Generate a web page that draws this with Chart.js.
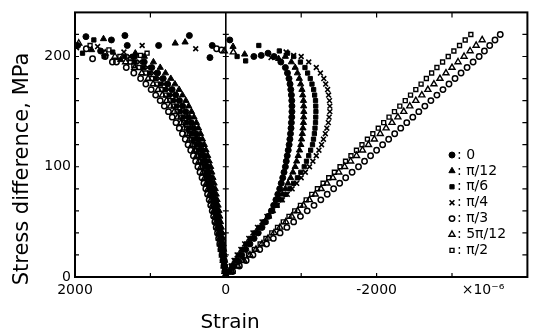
<!DOCTYPE html>
<html><head><meta charset="utf-8">
<script src="https://cdn.jsdelivr.net/npm/chart.js@4.4.0/dist/chart.umd.min.js"></script>
<style>html,body{margin:0;padding:0;background:#fff;}canvas{display:block;}</style>
</head><body>
<canvas id="c" width="533" height="335"></canvas>
<script>
// ---- data (strain in 1e-6, stress difference in MPa) ----
const angleLabels = ['0','π/12','π/6','π/4','π/3','5π/12','π/2'];
const stressSteps = [0,5,10,15,20,25,30,35,40,45,50,55,60,65,70,75,80,85,90,95,100,105,110,115,120,125,130,135,140,145,150,155,160,165,170,175,180,185,190,195,200,205,210,215,220];
const xTickLabels = [2000, 0, -2000];
const yTickLabels = [0, 100, 200];
const xTitle = 'Strain';
const yTitle = 'Stress difference, MPa';
const unitLabel = '×10⁻⁶';

// positive-strain branches
const left0 = [0,7,14,20,28,37,46,55,65,77,89,100,112,126,141,156,171,189,206,224,243,265,288,313,339,367,395,426,457,494,531,573,615,664,712,771,830,905,982,1082,1210];
const left1 = [0,5,10,15,20,28,35,42,50,60,70,80,90,102,115,127,140,155,170,185,200,220,240,262,285,310,335,362,390,422,455,492,530,575,620,675,730,800,870,960,1080];
const left2 = [0,8,17,26,35,46,57,68,80,93,107,121,135,151,167,184,202,222,242,263,285,310,335,363,392,423,455,490,525,566,607,653,700,752,805,867,930,1010,1095,1205,1340];
const left3 = [0,8,16,23,32,42,52,62,73,85,98,111,124,139,154,170,187,206,224,244,264,288,312,338,366,395,425,458,491,530,569,613,658,708,759,819,880,958,1039,1144,1275];
const left4 = [0,12,25,37,50,65,80,95,110,127,145,162,180,200,220,242,265,290,315,342,370,400,430,465,500,537,575,617,660,710,760,815,870,930,990,1060,1130,1220,1320,1450,1600];
const left5 = [0,10,21,31,43,56,69,82,95,110,126,142,158,176,194,213,234,256,279,303,328,355,383,414,446,480,515,553,593,638,684,734,785,841,898,964,1030,1115,1208,1328,1470];
const left6 = [0,9,19,29,39,51,63,75,88,102,117,132,147,164,181,199,218,239,261,283,307,333,359,389,419,452,485,522,559,602,646,694,743,797,852,916,980,1063,1152,1267,1405];

// negative-strain branches
const right0 = [0,-50,-100,-155,-210,-265,-320,-375,-430,-480,-525,-565,-605,-635,-665,-690,-715,-735,-755,-772,-790,-802,-815,-828,-840,-850,-858,-865,-870,-875,-877,-877,-875,-870,-862,-852,-838,-818,-790,-730,-640];
const right1 = [0,-45,-90,-140,-190,-245,-300,-355,-410,-465,-520,-570,-620,-665,-710,-750,-790,-825,-860,-890,-920,-940,-960,-978,-995,-1005,-1015,-1023,-1030,-1033,-1035,-1033,-1030,-1020,-1010,-993,-975,-950,-920,-870,-790];
const right2 = [0,-40,-80,-125,-170,-220,-270,-325,-380,-440,-500,-560,-620,-680,-740,-795,-850,-900,-950,-995,-1040,-1070,-1100,-1125,-1150,-1163,-1175,-1183,-1190,-1193,-1195,-1193,-1190,-1178,-1165,-1143,-1120,-1085,-1050,-990,-900];
const right3 = [0,-35,-70,-110,-150,-200,-250,-305,-360,-420,-480,-545,-610,-680,-750,-815,-880,-940,-1000,-1055,-1110,-1155,-1200,-1235,-1270,-1295,-1320,-1340,-1360,-1370,-1380,-1380,-1375,-1363,-1350,-1325,-1300,-1255,-1200,-1100,-1000];
const right4 = [0,-90,-180,-270,-360,-450,-540,-630,-720,-810,-900,-990,-1080,-1170,-1260,-1345,-1430,-1510,-1590,-1675,-1760,-1840,-1920,-2000,-2080,-2160,-2240,-2320,-2400,-2480,-2560,-2640,-2720,-2800,-2880,-2960,-3040,-3120,-3200,-3280,-3360,-3430,-3500,-3570,-3640];
const right5 = [0,-80,-160,-240,-320,-400,-480,-560,-640,-718,-796,-874,-952,-1030,-1108,-1186,-1264,-1342,-1420,-1498,-1576,-1655,-1734,-1813,-1892,-1970,-2048,-2126,-2204,-2282,-2360,-2440,-2520,-2600,-2680,-2760,-2840,-2920,-3000,-3080,-3160,-3240,-3320,-3400];
const right6 = [0,-75,-150,-225,-300,-378,-455,-532,-610,-686,-762,-838,-914,-990,-1066,-1140,-1215,-1290,-1365,-1440,-1515,-1588,-1660,-1733,-1806,-1878,-1950,-2022,-2094,-2165,-2237,-2308,-2380,-2450,-2520,-2590,-2660,-2730,-2800,-2875,-2950,-3025,-3100,-3175,-3250];

// scattered points near yield ([strain, stress])
const tail0 = [[1855,218],[1965,210],[1517,215],[1338,219],[1307,210],[891,210],[1660,205],[-560,203],[-470,201],[-372,200],[-53,215],[180,210],[210,199],[483,219]];
const tail1 = [[1622,216],[1395,197],[1200,203],[1780,206],[-700,198],[-250,202],[-96,209],[540,213],[671,212]];
const tail2 = [[1750,215],[1614,200],[1500,204],[1900,203],[-820,203],[-710,205],[-438,210],[-263,196],[-150,200]];
const tail3 = [[1109,210],[1351,204],[1980,208],[1700,209],[399,207],[-900,201],[-800,204],[-600,199]];
const tail4 = [[1767,198],[1504,195],[1850,207],[122,207],[57,206]];
const tail5 = [[1263,198],[1600,203],[1950,212],[20,205],[-100,204]];
const tail6 = [[1044,203],[1132,201],[1220,192],[1550,206],[1800,210]];

// ---- styles ----
const markerStyles = ['circle','triangle','rect','crossRot','circle','triangle','rect'];
const markerFilled = [true,true,true,true,false,false,false];
const markerRadius = [3,3.6,3,3.4,2.7,3.5,2.8];
const markerBorder = [1,1,1,1.6,1.5,1.4,1.4];

const leftBranches = [left0,left1,left2,left3,left4,left5,left6];
const rightBranches = [right0,right1,right2,right3,right4,right5,right6];
const tails = [tail0,tail1,tail2,tail3,tail4,tail5,tail6];

function branch(arr){ return arr.map((v,i)=>({x:v, y:stressSteps[i]})); }

const datasets = angleLabels.map((lab,i)=>({
  label: lab,
  data: [...branch(leftBranches[i]), ...branch(rightBranches[i]), ...tails[i].map(p=>({x:p[0], y:p[1]}))],
  pointStyle: markerStyles[i],
  pointRadius: markerRadius[i],
  pointBorderWidth: markerBorder[i],
  pointBackgroundColor: markerFilled[i] ? '#000' : 'rgba(255,255,255,0)',
  pointBorderColor: '#000',
  showLine: false
}));

Chart.defaults.font.family = 'DejaVu Sans';
Chart.defaults.color = '#000';

const decor = {
  id: 'decor',
  afterDatasetsDraw(chart){
    const {ctx, chartArea:a, scales:{x,y}} = chart;
    ctx.save();
    ctx.strokeStyle = '#000'; ctx.fillStyle = '#000';
    const x0 = x.getPixelForValue(0);
    ctx.lineWidth = 1.6;
    ctx.beginPath(); ctx.moveTo(x0, a.top); ctx.lineTo(x0, a.bottom); ctx.stroke();
    ctx.lineWidth = 1.2;
    ctx.beginPath();
    y.ticks.forEach(t=>{
      if (t.value <= y.min || t.value >= y.max) return;
      const py = y.getPixelForValue(t.value);
      ctx.moveTo(a.left, py); ctx.lineTo(a.left+4, py);
      ctx.moveTo(a.right-5, py); ctx.lineTo(a.right, py);
      ctx.moveTo(x0-3, py); ctx.lineTo(x0+3, py);
    });
    x.ticks.forEach(t=>{
      if (t.value <= x.min || t.value >= x.max || t.value === 0) return;
      const px = x.getPixelForValue(t.value);
      ctx.moveTo(px, a.bottom); ctx.lineTo(px, a.bottom-4);
      ctx.moveTo(px, a.top); ctx.lineTo(px, a.top+5);
    });
    ctx.stroke();
    ctx.lineWidth = 2;
    ctx.strokeRect(a.left, a.top, a.right-a.left, a.bottom-a.top);

    // axis titles
    ctx.textAlign = 'center'; ctx.textBaseline = 'middle';
    ctx.font = '20px "DejaVu Sans"';
    ctx.fillText(xTitle, 230, 323);
    ctx.save();
    ctx.translate(23, 169); ctx.rotate(-Math.PI/2);
    ctx.font = '21px "DejaVu Sans"';
    ctx.fillText(yTitle, 0, 0);
    ctx.restore();
    ctx.font = '14px "DejaVu Sans"';
    ctx.fillText(unitLabel, 483, 290);

    // legend
    ctx.textAlign = 'left';
    chart.data.datasets.forEach((ds,i)=>{
      const ly = 155 + i*15.9;
      ctx.fillStyle = markerFilled[i] ? '#000' : 'rgba(255,255,255,0)';
      ctx.strokeStyle = '#000';
      ctx.lineWidth = markerBorder[i];
      Chart.helpers.drawPoint(ctx, {pointStyle: markerStyles[i], radius: markerRadius[i], borderWidth: markerBorder[i], rotation: 0}, 452, ly);
      ctx.fillStyle = '#000';
      ctx.fillText(': ' + ds.label, 457, ly);
    });
    ctx.restore();
  }
};

new Chart(document.getElementById('c'), {
  type: 'scatter',
  data: {datasets},
  options: {
    responsive: false, animation: false, devicePixelRatio: 1, events: [],
    layout: {padding: {top: 8, right: 5, left: 0, bottom: 0}},
    plugins: {legend: {display: false}, tooltip: {enabled: false}},
    scales: {
      x: {
        type: 'linear', min: -4000, max: 2000, reverse: true,
        grid: {display: false, drawTicks: false}, border: {display: false},
        ticks: {stepSize: 1000, autoSkip: false, maxRotation: 0, padding: 5, color: '#000',
          font: {family: 'DejaVu Sans', size: 14},
          callback: v => xTickLabels.includes(v) ? String(v) : ''},
        title: {display: false, text: xTitle},
        afterFit: s => { s.height = 58; }
      },
      y: {
        type: 'linear', min: 0, max: 240,
        grid: {display: false, drawTicks: false}, border: {display: false},
        ticks: {stepSize: 20, autoSkip: false, padding: 4, color: '#000',
          font: {family: 'DejaVu Sans', size: 14},
          callback: v => yTickLabels.includes(v) ? String(v) : ''},
        title: {display: false, text: yTitle},
        afterFit: s => { s.width = 75; }
      }
    }
  },
  plugins: [decor]
});
</script>
</body></html>
